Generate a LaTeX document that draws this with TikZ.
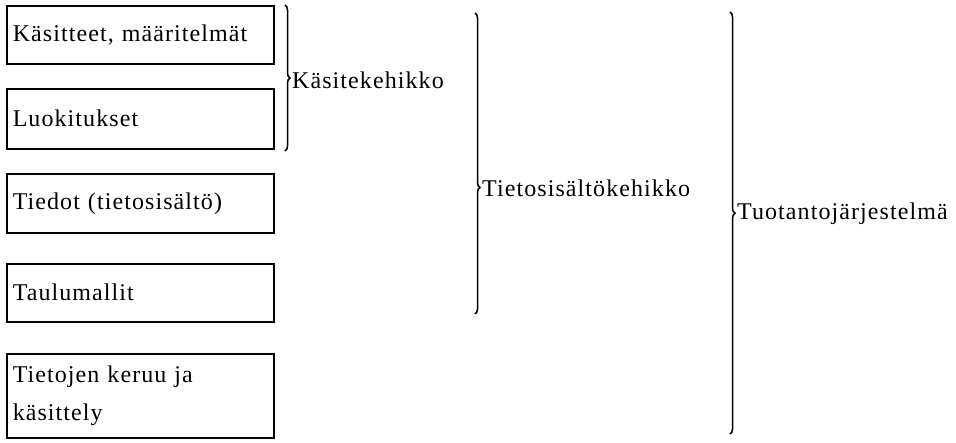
\documentclass[tikz,border=0pt]{standalone}
\usepackage{fontspec}
\setmainfont{Liberation Serif}[LetterSpace=4.5]
\usetikzlibrary{decorations.pathreplacing}
\begin{document}
\begin{tikzpicture}[x=1pt,y=-1pt,
  box/.style={draw, line width=1.5pt, anchor=north west, minimum width=267pt,
    text width=255pt, inner sep=6pt, align=left, font=\fontsize{24}{38}\selectfont},
  brc/.style={draw, line width=1.5pt, decorate, decoration={brace, amplitude=5pt}},
  lbl/.style={anchor=west, inner sep=1pt, font=\fontsize{24}{28}\selectfont}]
\useasboundingbox (0,0) rectangle (956,442);
\node[box, minimum height=58pt] (b1) at (6,5) {Käsitteet, määritelmät};
\node[box, minimum height=60pt] (b2) at (6,88) {Luokitukset};
\node[box, minimum height=59pt] (b3) at (6,173) {Tiedot (tietosisältö)};
\node[box, minimum height=58pt] (b4) at (6,263) {Taulumallit};
\node[box, minimum height=84pt] (b5) at (6,353) {Tietojen keruu ja\\käsittely};
\coordinate (k1) at (285,5);
\coordinate (k2) at (285,151);
\coordinate (t1) at (475,13);
\coordinate (t2) at (475,314);
\coordinate (p1) at (730,12);
\coordinate (p2) at (730,434);
\draw[brc] (k1) -- (k2);
\draw[brc, decoration={aspect=0.58}] (t1) -- (t2);
\draw[brc, decoration={aspect=0.477}] (p1) -- (p2);
\node[lbl] (lk) at (291,80) {Käsitekehikko};
\node[lbl] (lt) at (481,188) {Tietosisältökehikko};
\node[lbl] (lp) at (736,214) {Tuotantojärjestelmä};
\end{tikzpicture}
\end{document}
